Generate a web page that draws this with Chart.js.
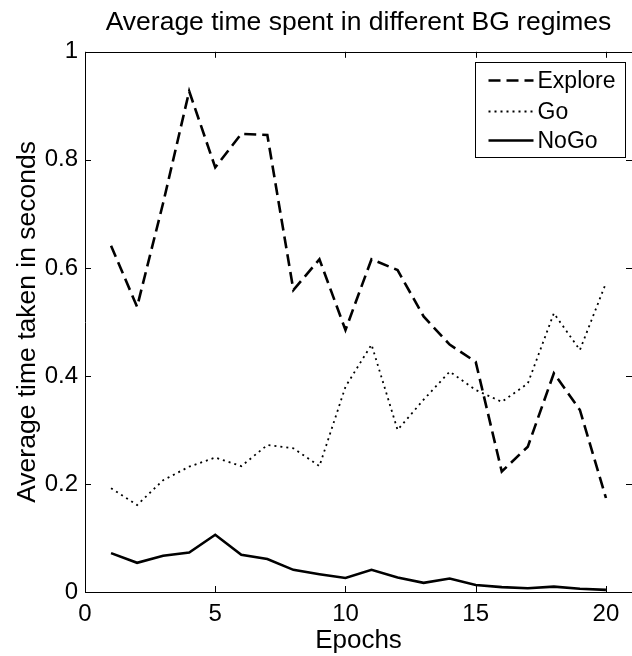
<!DOCTYPE html>
<html>
<head>
<meta charset="utf-8">
<script src="https://cdn.jsdelivr.net/npm/chart.js@4.4.1/dist/chart.umd.min.js"></script>
<style>
  html, body { margin: 0; padding: 0; background: #ffffff; }
  #wrap { width: 632px; height: 656px; }
</style>
</head>
<body>
<div id="wrap"><canvas id="c" width="632" height="656"></canvas></div>
<script>
const epochs = [1, 2, 3, 4, 5, 6, 7, 8, 9, 10, 11, 12, 13, 14, 15, 16, 17, 18, 19, 20];
const explore = [0.641, 0.528, 0.72, 0.927, 0.786, 0.848, 0.846, 0.559, 0.616, 0.485,
                 0.616, 0.596, 0.51, 0.458, 0.426, 0.223, 0.269, 0.405, 0.337, 0.174];
const go = [0.192, 0.161, 0.207, 0.232, 0.249, 0.233, 0.272, 0.266, 0.233, 0.38,
            0.458, 0.3, 0.356, 0.408, 0.374, 0.352, 0.386, 0.516, 0.448, 0.572];
const nogo = [0.072, 0.054, 0.067, 0.073, 0.106, 0.069, 0.061, 0.041, 0.033, 0.026,
              0.041, 0.027, 0.017, 0.025, 0.013, 0.009, 0.007, 0.01, 0.006, 0.004];
const seriesNames = ['Explore', 'Go', 'NoGo'];
const xTicks = [0, 5, 10, 15, 20];
const yTicks = [0, 0.2, 0.4, 0.6, 0.8, 1];
const titleText = 'Average time spent in different BG regimes';
const xTitle = 'Epochs';
const yTitle = 'Average time taken in seconds';

const FONT = "'Liberation Sans', Arial, Helvetica, sans-serif";

function pts(arr) { return epochs.map((e, i) => ({ x: e, y: arr[i] })); }

const framePlugin = {
  id: 'frame',
  afterDatasetsDraw(chart) {
    const ctx = chart.ctx, ca = chart.chartArea;
    const sx = chart.scales.x, sy = chart.scales.y;
    ctx.save();
    ctx.strokeStyle = '#000';
    ctx.lineWidth = 1;
    ctx.setLineDash([]);
    ctx.beginPath();
    ctx.rect(Math.round(ca.left) + 0.5, Math.round(ca.top) + 0.5,
             Math.round(ca.right - ca.left), Math.round(ca.bottom - ca.top));
    ctx.stroke();
    const tl = 6;
    ctx.beginPath();
    xTicks.forEach(v => {
      const px = Math.round(sx.getPixelForValue(v)) + 0.5;
      ctx.moveTo(px, ca.bottom); ctx.lineTo(px, ca.bottom - tl);
      ctx.moveTo(px, ca.top); ctx.lineTo(px, ca.top + tl);
    });
    yTicks.forEach(v => {
      const py = Math.round(sy.getPixelForValue(v)) + 0.5;
      ctx.moveTo(ca.left, py); ctx.lineTo(ca.left + tl, py);
      ctx.moveTo(ca.right, py); ctx.lineTo(ca.right - tl, py);
    });
    ctx.stroke();

    // legend box (inside plot, top right)
    const bw = 150, bh = 95;
    const bx = Math.round(ca.right - 7 - bw) + 0.5;
    const by = Math.round(ca.top + 10) + 0.5;
    ctx.fillStyle = '#fff';
    ctx.fillRect(bx, by, bw, bh);
    ctx.strokeRect(bx, by, bw, bh);
    const rows = [18, 49, 78];
    chart.data.datasets.forEach((ds, i) => {
      const y = by + rows[i];
      ctx.beginPath();
      ctx.lineWidth = ds.borderWidth;
      ctx.setLineDash(ds.borderDash || []);
      ctx.moveTo(bx + 13, y);
      ctx.lineTo(bx + 58, y);
      ctx.stroke();
      ctx.setLineDash([]);
      ctx.fillStyle = '#000';
      ctx.font = '23px ' + FONT;
      ctx.textAlign = 'left';
      ctx.textBaseline = 'middle';
      ctx.fillText(ds.label, bx + 62, y + 1);
    });
    ctx.restore();
  }
};

new Chart(document.getElementById('c'), {
  type: 'line',
  data: {
    datasets: [
      { label: seriesNames[0], data: pts(explore), borderColor: '#000', borderWidth: 2.6,
        borderDash: [12, 6], pointRadius: 0, tension: 0, fill: false },
      { label: seriesNames[1], data: pts(go), borderColor: '#000', borderWidth: 1.8,
        borderDash: [2, 4], pointRadius: 0, tension: 0, fill: false },
      { label: seriesNames[2], data: pts(nogo), borderColor: '#000', borderWidth: 2.6,
        pointRadius: 0, tension: 0, fill: false }
    ]
  },
  options: {
    responsive: false,
    animation: false,
    devicePixelRatio: 1,
    layout: { padding: { left: 0, right: -3, top: 0, bottom: 0 } },
    plugins: {
      legend: { display: false },
      tooltip: { enabled: false },
      title: {
        display: true, text: titleText, color: '#000', fullSize: false,
        font: { family: FONT, size: 26.5, weight: 'normal', lineHeight: 1.2 },
        padding: { top: 7, bottom: 13 }
      }
    },
    scales: {
      x: {
        type: 'linear', min: 0, max: 21,
        afterBuildTicks: s => { s.ticks = xTicks.map(v => ({ value: v })); },
        afterFit: s => { s.height = 64; },
        grid: { display: false, drawTicks: false },
        border: { display: false },
        ticks: { color: '#000', padding: 8, maxRotation: 0,
                 callback: v => String(v),
                 font: { family: FONT, size: 24 } },
        title: { display: true, text: xTitle, color: '#000',
                 font: { family: FONT, size: 26 }, padding: { top: 0, bottom: 0 } }
      },
      y: {
        type: 'linear', min: 0, max: 1,
        afterBuildTicks: s => { s.ticks = yTicks.map(v => ({ value: v })); },
        afterFit: s => { s.width = 85; },
        grid: { display: false, drawTicks: false },
        border: { display: false },
        ticks: { color: '#000', padding: 7, callback: v => String(v),
                 font: { family: FONT, size: 24 } },
        title: { display: true, text: yTitle, color: '#000',
                 font: { family: FONT, size: 26.5 }, padding: { top: 12, bottom: 0 } }
      }
    }
  },
  plugins: [framePlugin]
});
</script>
</body>
</html>
